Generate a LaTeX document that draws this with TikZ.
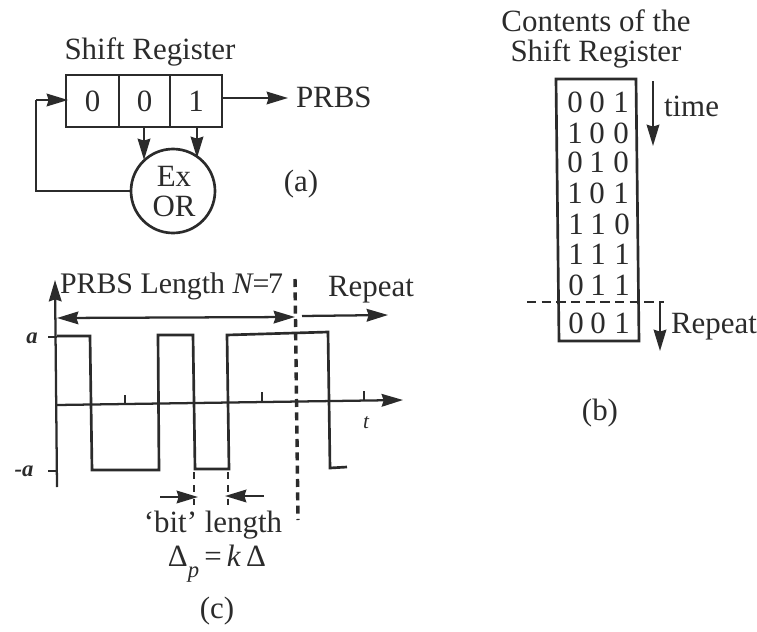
\documentclass[tikz,border=0pt]{standalone}
\usepackage{fontspec}
\setmainfont{Liberation Serif}
\usetikzlibrary{arrows.meta}
\definecolor{ink}{HTML}{2B2B2B}
\tikzset{
  x=0.75pt,y=-0.75pt,
  every node/.style={text=ink,inner sep=0pt,outer sep=0pt},
  lbl/.style={font=\fontsize{23.2}{22.5}\selectfont},
  small/.style={font=\fontsize{17}{18}\selectfont\itshape\bfseries},
  line/.style={draw=ink,line width=2pt},
  thin line/.style={draw=ink,line width=1.5pt},
  arr/.style={draw=ink,line width=1.7pt,-{Stealth[length=16pt,width=9.5pt,inset=1.5pt]}},
  darr/.style={draw=ink,line width=1.7pt,{Stealth[length=16pt,width=9.5pt,inset=1.5pt]}-{Stealth[length=16pt,width=9.5pt,inset=1.5pt]}},
  cell/.style={line,lbl,rectangle,minimum height=39pt},
}
\begin{document}
\begin{tikzpicture}
\useasboundingbox (0,0) rectangle (757,632);
% (a)
\node[lbl] (srtitle) at (150,52) {Shift Register};
\node[cell,minimum width=39.75pt] (c1) at (92.5,101) {0};
\node[cell,minimum width=38.25pt] (c2) at (144.5,101) {0};
\node[cell,minimum width=39pt] (c3) at (196,101) {1};
\node[lbl,anchor=west] (prbs) at (296,97) {PRBS};
\coordinate (outend) at (288,98);
\node[circle,line,minimum size=63pt] (xor) at (173,191) {};
\node[lbl] (ex) at (174,176) {Ex};
\node[lbl] (or) at (174,206) {OR};
\node[lbl] (la) at (301,184) {(a)};
\coordinate (corner1) at (36,191);
\coordinate (corner2) at (36,100);
\coordinate (in1) at (68,100);
\coordinate (s1) at (144,127);
\coordinate (t1) at (144,160);
\coordinate (s2) at (197,127);
\coordinate (t2) at (197,158);
\draw[arr] (c3.east |- outend) -- (outend);
\draw[line] (xor.west) -- (corner1) -- (corner2);
\draw[arr] (corner2) -- (in1);
\draw[arr] (s1) -- (t1);
\draw[arr] (s2) -- (t2);
% (b)
\node[lbl,align=center] (ct) at (596,39) {Contents of the\\Shift Register};
\draw[line] (556,79) -- (636,79) -- (639,341) -- (559,341) -- cycle;
\foreach \r/\y/\a/\b/\c/\dx in {a/102/0/0/1/0,b/133/1/0/0/0,c/162/0/1/0/0,d/193/1/0/1/0,e/224/1/1/0/1,f/254/1/1/1/1,g/285/0/1/1/1,h/323/0/0/1/1}{
  \node[lbl] (\r1) at (575+\dx,\y) {\a};
  \node[lbl] (\r2) at (597+\dx,\y) {\b};
  \node[lbl] (\r3) at (621+\dx,\y) {\c};
}
\coordinate (dl) at (527,302);
\coordinate (dr) at (664,302);
\draw[thin line,dash pattern=on 7pt off 4pt] (dl) -- (dr);
\node[lbl,anchor=west] (time) at (664,106) {time};
\coordinate (ts) at (653,81);
\coordinate (te) at (653,146);
\draw[arr] (ts) -- (te);
\node[lbl,anchor=west] (rep1) at (671,327) {Repeat};
\coordinate (rs) at (660,302);
\coordinate (re) at (660,351);
\draw[arr] (rs) -- (re);
\node[lbl] (lb) at (600,413) {(b)};
% (c)
\coordinate (ybot) at (57,487);
\coordinate (ytop) at (55,280);
\coordinate (xl) at (57,405);
\coordinate (xr) at (403,400);
\draw[arr] (ybot) -- (ytop);
\draw[arr] (xl) -- (xr);
\draw[line] (48,337) -- (57,337);
\draw[line] (48,471) -- (57,471);
\node[small] (va) at (32,338) {a};
\node[small] (vma) at (24,471) {-a};
\draw[thin line] (125,395) -- (125,404);
\draw[thin line] (262,392) -- (262,402);
\draw[thin line] (364,391) -- (364,401);
\node[font=\fontsize{16}{18}\selectfont\itshape] (tl) at (366,423) {t};
\draw[line,line join=miter] (57,336) -- (90,336) -- (92,470) -- (159,470) -- (158,335) -- (193,335) -- (195,469) -- (229,469) -- (227,335) -- (328,332) -- (330,468) -- (347,467);
\node[lbl,anchor=west] (plen) at (60,286) {\fontsize{22.4}{22.5}\selectfont PRBS Length \textit{N}\kern-1pt=\kern-1pt7};
\node[lbl,anchor=west] (rep2) at (328,290) {Repeat};
\coordinate (da) at (57,318);
\coordinate (db) at (295,317);
\draw[darr] (da) -- (db);
\coordinate (ra) at (302,316);
\coordinate (rb) at (388,315);
\draw[arr] (ra) -- (rb);
\coordinate (vt) at (295,279);
\coordinate (vb) at (298,520);
\draw[draw=ink,line width=2.6pt,dash pattern=on 6pt off 4pt] (vt) -- (vb);
\draw[thin line,dash pattern=on 5pt off 5pt] (194,472) -- (194,507);
\draw[thin line,dash pattern=on 5pt off 5pt] (228,472) -- (228,507);
\coordinate (b1) at (160,497);
\coordinate (b2) at (198,497);
\coordinate (b3) at (264,496);
\coordinate (b4) at (225,496);
\draw[arr] (b1) -- (b2);
\draw[arr] (b3) -- (b4);
\node[lbl] (bit) at (213,525) {‘bit’ length};
\node[lbl] (dp) at (217,564) {Δ\raisebox{-8pt}{\fontsize{17}{18}\selectfont\textit{p}}\,=\,\textit{k}\,Δ};
\node[lbl] (lc) at (217,611) {(c)};
\end{tikzpicture}
\end{document}
